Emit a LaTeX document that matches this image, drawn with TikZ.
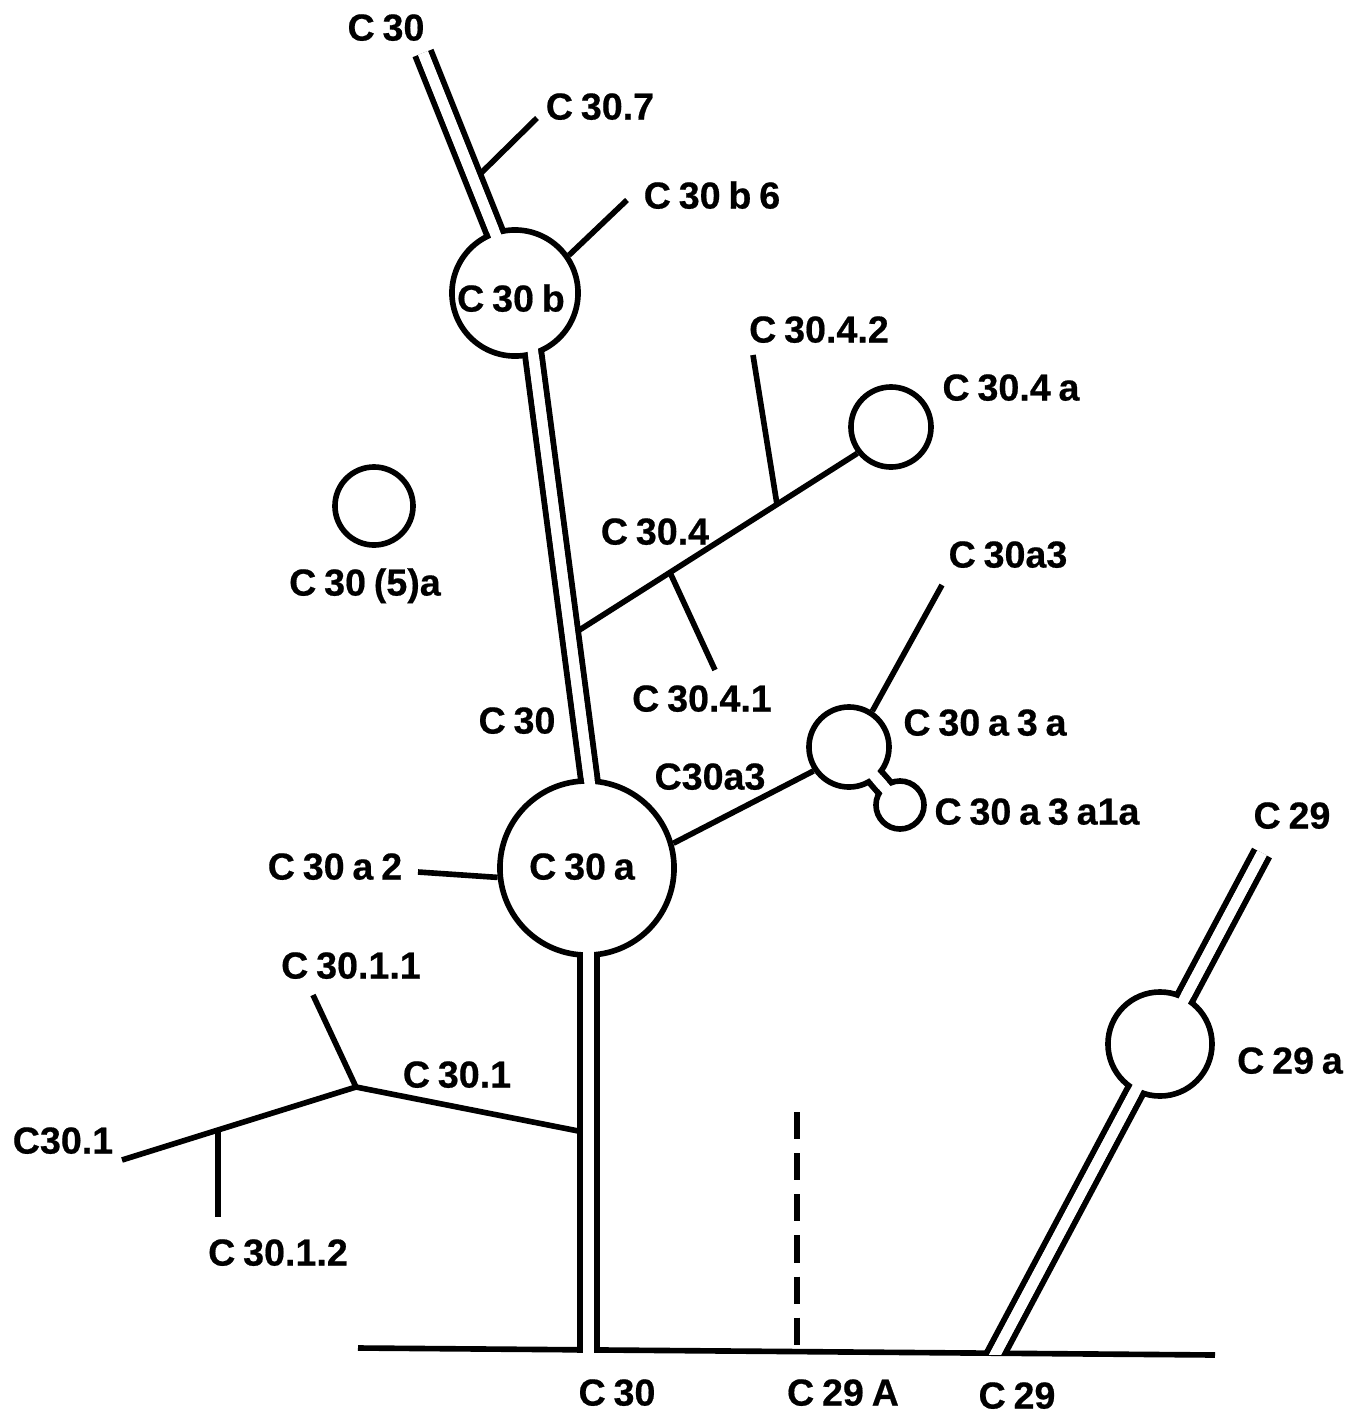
\documentclass[tikz,border=0pt]{standalone}
\usepackage{fontspec}
\setmainfont{Liberation Sans}
\newfontfamily\labfont{Liberation Sans Bold}[WordSpace=0.75,FakeBold=0.5]
\usetikzlibrary{calc}
\pgfdeclarelayer{bg}\pgfdeclarelayer{fg}\pgfsetlayers{bg,main,fg}
\begin{document}
\begin{tikzpicture}[x=0.01cm,y=-0.01cm,
  lw/.style={draw=black,line width=1.6pt},
  ring/.style={circle,draw=black,fill=white,line width=1.6pt,inner sep=0pt},
  dbl/.style={draw=black,line width=1.7pt,double=white,double distance=3.0pt},
  gapline/.style={draw=white,line width=3.0pt},
  lab/.style={font=\labfont\fontsize{10.7}{12}\selectfont,inner sep=0pt,text height=7.7pt,text depth=0pt}]
\useasboundingbox (0,0) rectangle (1364,1417);
% circles
\node[ring,minimum size=1.26cm] (b) at (515,293) {};
\node[ring,minimum size=1.74cm] (a) at (587,868) {};
\node[ring,minimum size=0.78cm] (c5a) at (374,506) {};
\node[ring,minimum size=0.80cm] (c4a) at (891,427) {};
\node[ring,minimum size=0.80cm] (a3a) at (849,747) {};
\node[ring,minimum size=0.48cm] (a3a1a) at (900,805) {};
\node[ring,minimum size=1.04cm] (c29a) at (1160,1044) {};
% coordinates
\coordinate (s1a) at (423,53); \coordinate (s1b) at (501,248);
\coordinate (s2a) at (531,337); \coordinate (s2b) at (591,793);
\coordinate (s3a) at (588.5,945); \coordinate (s3b) at (588.5,1353);
\coordinate (s4a) at (988,1368); \coordinate (s4b) at (1262,853);
\coordinate (bl) at (358,1348); \coordinate (br) at (1215,1355);
\coordinate (d1) at (797,1112); \coordinate (d2) at (797,1351);
\coordinate (j7) at (474,180); \coordinate (e7) at (537,118);
\coordinate (e6) at (627,200);
\coordinate (j4) at (570,636); \coordinate (k41) at (670,572.5); \coordinate (e41) at (715,670);
\coordinate (k42) at (777,504.5); \coordinate (e42) at (753,355);
\coordinate (e3) at (942,585);
\coordinate (e2) at (418,872);
\coordinate (j1) at (588.5,1133); \coordinate (k2) at (356,1087); \coordinate (e11) at (313,995);
\coordinate (k1) at (218,1130); \coordinate (e12) at (218,1217); \coordinate (e1) at (122,1160);
\begin{pgfonlayer}{bg}
\draw[lw] (bl) -- (br);
\draw[lw,dash pattern=on 7.7pt off 4pt] (d1) -- (d2);
\draw[lw] (j7) -- (e7);
\draw[lw] (b.35.6) -- (e6);
\draw[lw] (j4) -- (c4a.218);
\draw[lw] (k41) -- (e41);
\draw[lw] (k42) -- (e42);
\draw[lw] (a.16) -- (a3a.214);
\draw[lw] (a3a.57) -- (e3);
\draw[lw] (e2) -- (a.186);
\draw[lw] (e1) -- (k1) -- (k2) -- (j1);
\draw[lw] (k1) -- (e12);
\draw[lw] (k2) -- (e11);
\draw[dbl] (s1a) -- (s1b);
\draw[dbl] (s2a) -- (s2b);
\draw[dbl] (s3a) -- (s3b);
\begin{scope}
\clip (0,0) rectangle (1364,1354.5);
\draw[dbl] (s4a) -- (s4b);
\end{scope}
\draw[dbl] (a3a.center) -- (a3a1a.center);
\end{pgfonlayer}
\begin{pgfonlayer}{fg}
\draw[gapline] (s1a) -- (s1b);
\draw[gapline] (s2a) -- (s2b);
\draw[gapline] (s3a) -- (s3b);
\begin{scope}
\clip (0,0) rectangle (1364,1354.5);
\draw[gapline] (s4a) -- (s4b);
\end{scope}
\draw[gapline] (a3a.center) -- (a3a1a.center);
% labels
\node[lab] (t1) at (386,27) {C 30};
\node[lab] (t2) at (600,106) {C 30.7};
\node[lab] (t3) at (712,195) {C 30 b 6};
\node[lab] (t4) at (511,298) {C 30 b};
\node[lab] (t5) at (819,329) {C 30.4.2};
\node[lab] (t6) at (1011,387) {C 30.4 a};
\node[lab] (t7) at (365,582) {C 30 (5)a};
\node[lab] (t8) at (655,531) {C 30.4};
\node[lab] (t9) at (1008,554) {C 30a3};
\node[lab] (t10) at (702,698) {C 30.4.1};
\node[lab] (t11) at (985,722) {C 30 a 3 a};
\node[lab] (t12) at (517,720) {C 30};
\node[lab] (t13) at (710,776) {C30a3};
\node[lab] (t14) at (1037,811) {C 30 a 3 a1a};
\node[lab] (t15) at (1292,815) {C 29};
\node[lab] (t16) at (335,866) {C 30 a 2};
\node[lab] (t17) at (582,866) {C 30 a};
\node[lab] (t18) at (351,965) {C 30.1.1};
\node[lab] (t19) at (1290,1060) {C 29 a};
\node[lab] (t20) at (457,1074) {C 30.1};
\node[lab] (t21) at (63,1140) {C30.1};
\node[lab] (t22) at (278,1252) {C 30.1.2};
\node[lab] (t23) at (617,1392) {C 30};
\node[lab] (t24) at (843,1392) {C 29 A};
\node[lab] (t25) at (1017,1395) {C 29};
\end{pgfonlayer}
\end{tikzpicture}
\end{document}
